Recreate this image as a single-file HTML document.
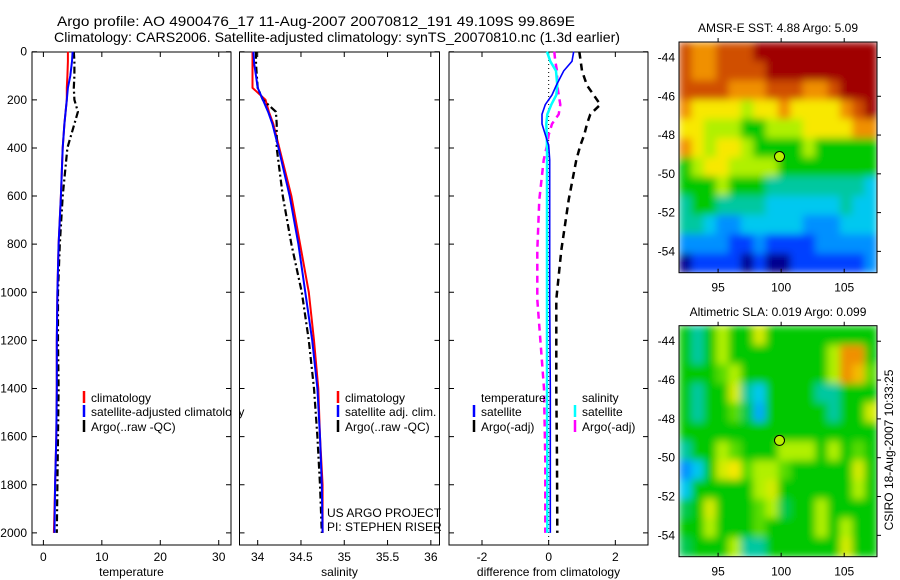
<!DOCTYPE html>
<html><head><meta charset="utf-8">
<style>
html,body{margin:0;padding:0;background:#fff}
svg{display:block;font-family:"Liberation Sans",sans-serif}
</style></head>
<body>
<svg id="fig" width="900" height="580" viewBox="0 0 900 580" xmlns="http://www.w3.org/2000/svg">
<defs>
<filter id="smooth" x="0" y="0" width="1" height="1"><feGaussianBlur stdDeviation="4" edgeMode="duplicate"/></filter>
<clipPath id="clipA"><rect x="679" y="42" width="198" height="230.7"/></clipPath>
<clipPath id="clipB"><rect x="679" y="325.7" width="198" height="231"/></clipPath>
</defs>
<rect width="900" height="580" fill="#fff"/>
<text x="57" y="26" font-size="14" textLength="518" lengthAdjust="spacingAndGlyphs">Argo profile: AO 4900476_17 11-Aug-2007 20070812_191 49.109S 99.869E</text>
<text x="54" y="42" font-size="14" textLength="566" lengthAdjust="spacingAndGlyphs">Climatology: CARS2006. Satellite-adjusted climatology: synTS_20070810.nc (1.3d earlier)</text>
<g id="g"></g>
</svg>
<script>
// ---------- data ----------
const depthTicks=[0,200,400,600,800,1000,1200,1400,1600,1800,2000];
const tempTicks=[0,10,20,30];
const salTicks=[34,34.5,35,35.5,36];
const diffTicks=[-2,0,2];
const tDepth=[0,40,100,150,200,250,300,400,600,800,1000,1200,1400,1600,1800,2000];
const tClim=[4.2,4.2,4.1,4.0,4.0,3.8,3.6,3.3,3.0,2.6,2.4,2.3,2.3,2.2,2.0,1.8];
const tSat=[5.0,4.9,4.6,4.2,4.0,3.8,3.6,3.3,3.0,2.6,2.4,2.3,2.3,2.2,2.0,1.9];
const tArgo=[5.2,5.3,5.3,5.2,5.3,5.9,5.3,4.1,3.3,2.8,2.5,2.5,2.6,2.5,2.4,2.3];
const sDepth=[0,50,100,150,200,250,300,400,600,800,1000,1200,1400,1600,1800,2000];
const sClim=[33.94,33.94,33.94,33.94,34.09,34.13,34.18,34.25,34.39,34.49,34.59,34.65,34.70,34.72,34.75,34.75];
const sSat=[33.95,33.96,33.98,34.0,34.06,34.12,34.17,34.24,34.37,34.47,34.55,34.63,34.69,34.72,34.74,34.75];
const sArgo=[33.98,33.98,33.99,34.0,34.06,34.21,34.22,34.22,34.29,34.39,34.51,34.59,34.65,34.69,34.72,34.74];
const dDepth=[0,40,80,140,180,220,260,300,345,390,450,615,825,1030,1400,1700,2000];
const dTempSat=[0.75,0.7,0.45,0.23,0.1,-0.1,-0.2,-0.2,-0.1,0,0.03,0.03,0.03,0.03,0.05,0.05,0.05];
const dSalSat=[-0.05,0.05,0.22,0.26,0.23,0.08,-0.04,-0.07,-0.06,-0.05,-0.05,-0.05,-0.05,-0.05,-0.05,-0.04,-0.04];
const dSalArgo=[0.17,0.2,0.25,0.26,0.3,0.35,0.3,0.1,0.0,-0.05,-0.15,-0.28,-0.34,-0.34,-0.14,-0.1,-0.1];
const dTempArgo=[0.92,0.96,1.0,1.15,1.35,1.55,1.25,1.15,1.07,0.95,0.83,0.6,0.38,0.23,0.23,0.25,0.26];
const mapLonTicks=[95,100,105];
const mapLatTicks=[-44,-46,-48,-50,-52,-54];
const sstGrid=[
[9,8,8,9,9,9,10,10,10,10,10,10,10,10,10,10],
[9,8,8,9,9,9,9,10,10,10,10,10,10,10,10,10],
[9,9,9,9,8,8,8,9,9,9,8,8,9,10,10,10],
[8,7,7,7,7,6,7,7,8,7,7,7,7,8,9,10],
[7,7,6,6,6,5,5,6,6,6,7,7,7,7,8,8],
[8,7,6,7,7,6,5,5,5,5,6,5,5,5,5,5],
[5,6,7,7,6,6,6,6,5,5,5,5,5,5,5,5],
[5,5,5,6,5,5,5,4,4,4,4,4,4,4,4,3],
[4,5,5,4,4,4,4,3,3,3,3,3,3,4,3,3],
[4,4,3,2,2,3,3,3,3,3,2,2,2,3,3,3],
[2,2,2,2,1,1,2,1,1,1,1,2,2,2,2,2],
[0,1,1,1,1,0,1,0,0,1,1,1,1,1,1,2]];
const slaGrid=[
[5,4,5,6,5,5,6.5,5,5,5,5,5,5,5,5,5],
[5,4,5,6,5,5,5,5,5,5,5,5,6,8,8,5],
[5,5,5,5.5,6,5,5,5,5,5,5,5,6,8,7.5,5.5],
[5,4,5,5,6.5,4,3,5,5,5,5,4,4,5,5,5],
[5,4,5,5,5.5,4.5,2.5,5,5,5,5,5,4,5,5,6.5],
[5,5,5,5,5,5,5,5,5,5,5,5,5,5,5,5],
[4,5,5,6,5.5,5,5,5,6,6,6,5,6,5,5.5,5],
[2,3,5,6.5,7,5.5,6,6,5.5,5,5,5,5,5,6.5,5],
[3,5,5,5,5,5,6,6.5,5,5,5,5,5,5,6,5],
[4.5,5,6.5,5,5,5,5.5,6,4.5,5,5,6,5,5,5,5],
[5,5,6,5,5,5,5.5,5,5,5,5,6,5,6,5,5],
[4.5,5,5,5,6,4,4,5,5,5,5,5,5,6.5,5,5]];

// ---------- helpers ----------
const NS="http://www.w3.org/2000/svg";
const G=document.getElementById('g');
function mk(tag,attrs,parent){const e=document.createElementNS(NS,tag);for(const k in attrs)e.setAttribute(k,attrs[k]);(parent||G).appendChild(e);return e;}
const yTop=52,yBot=545;
const yD=d=>51.7+0.2406*d;
const panels=[
 {name:'temperature',x0:32,x1:231,lo:-1.95,hi:32.1,ticks:tempTicks,label:'temperature'},
 {name:'salinity',x0:239.5,x1:439.5,lo:33.79,hi:36.1,ticks:salTicks,label:'salinity'},
 {name:'difference',x0:449,x1:648,lo:-2.99,hi:2.98,ticks:diffTicks,label:'difference from climatology'}];
panels.forEach(p=>{p.sx=v=>p.x0+(v-p.lo)/(p.hi-p.lo)*(p.x1-p.x0);});

panels.forEach((p,i)=>{
 const r=mk('rect',{x:p.x0,y:yTop,width:p.x1-p.x0,height:yBot-yTop,fill:'none',stroke:'#000','stroke-width':1});
 
 
 p.ticks.forEach(t=>{
  const x=p.sx(t);
  const tk=mk('path',{d:`M${x},${yBot}v-5M${x},${yTop}v5`,stroke:'#000'});
  
  
  const tl=mk('text',{x:x,y:561,'font-size':12,'text-anchor':'middle'});
  tl.textContent=String(t);
  
  
 });
 const xl=mk('text',{x:(p.x0+p.x1)/2,y:576,'font-size':12,'text-anchor':'middle'});
 xl.textContent=p.label;
 
 
 depthTicks.forEach(d=>{
  const y=yD(d);
  const tk=mk('path',{d:`M${p.x0},${y}h5M${p.x1},${y}h-5`,stroke:'#000'});
  
  
  if(i===0){
   const tl=mk('text',{x:27,y:y+4,'font-size':12,'text-anchor':'end'});
   tl.textContent=String(d);
   
   
  }
 });
});

function line(p,vals,depths,color,w,dash,name){
 const pts=vals.map((v,k)=>p.sx(v).toFixed(1)+','+yD(depths[k]).toFixed(1)).join(' ');
 const a={points:pts,fill:'none',stroke:color,'stroke-width':w};
 if(dash)a['stroke-dasharray']=dash;
 const e=mk('polyline',a);
 
 
}
const P0=panels[0],P1=panels[1],P2=panels[2];
line(P0,tClim,tDepth,'#f00',2,null,'temp-climatology-line');
line(P0,tArgo,tDepth,'#000',2.2,'7,3,2,3','temp-argo-line');
line(P0,tSat,tDepth,'#00f',2,null,'temp-satellite-line');
line(P1,sClim,sDepth,'#f00',2,null,'sal-climatology-line');
line(P1,sArgo,sDepth,'#000',2.2,'7,3,2,3','sal-argo-line');
line(P1,sSat,sDepth,'#00f',2,null,'sal-satellite-line');
const zl=mk('line',{x1:P2.sx(0),x2:P2.sx(0),y1:yTop,y2:yBot,stroke:'#000','stroke-dasharray':'1,3','stroke-width':1});


line(P2,dTempArgo,dDepth,'#000',2.5,'7,5','diff-temp-argo-line');
line(P2,dSalArgo,dDepth,'#f0f',2.5,'7,5','diff-sal-argo-line');
line(P2,dSalSat,dDepth,'#0ff',2.5,null,'diff-sal-satellite-line');
line(P2,dTempSat,dDepth,'#00f',1.6,null,'diff-temp-satellite-line');

function legend(x,y,color,text,name){
 const b=mk('line',{x1:x,x2:x,y1:y-11,y2:y+1,stroke:color,'stroke-width':2.5});
 
 
 const t=mk('text',{x:x+7,y:y,'font-size':12});
 t.textContent=text;
 
 
}
legend(84,402,'#f00','climatology','legend-temp-climatology');
legend(84,416,'#00f','satellite-adjusted climatology','legend-temp-satellite');
legend(84,431,'#000','Argo(..raw -QC)','legend-temp-argo');
legend(338,402,'#f00','climatology','legend-sal-climatology');
legend(338,416,'#00f','satellite adj. clim.','legend-sal-satellite');
legend(338,431,'#000','Argo(..raw -QC)','legend-sal-argo');
{const t=mk('text',{x:481,y:402,'font-size':12});t.textContent='temperature';


const s=mk('text',{x:582,y:402,'font-size':12});s.textContent='salinity';

}
legend(474,416,'#00f','satellite','legend-diff-temp-satellite');
legend(474,431,'#000','Argo(-adj)','legend-diff-temp-argo');
legend(575,416,'#0ff','satellite','legend-diff-sal-satellite');
legend(575,431,'#f0f','Argo(-adj)','legend-diff-sal-argo');
{const c=mk('rect',{x:231.5,y:380,width:7.5,height:60,fill:'#fff'});


mk('line',{x1:231,x2:231,y1:380,y2:440,stroke:'#000'});mk('line',{x1:239.5,x2:239.5,y1:380,y2:440,stroke:'#000'});}
{const t=mk('text',{x:327,y:517,'font-size':12});t.textContent='US ARGO PROJECT';

const u=mk('text',{x:327,y:531,'font-size':12});u.textContent='PI: STEPHEN RISER';
}

// ---------- maps ----------
const pal=['#00008f','#0040ff','#0090ff','#00c8f0','#00c8a0','#00c800','#b0f000','#f8e800','#f09000','#d05000','#a00000'];
function hex(h){return [1,3,5].map(i=>parseInt(h.substr(i,2),16));}
function col(v){v=Math.max(0,Math.min(10,v));const i=Math.floor(v),f=v-i;const a=hex(pal[i]),b=hex(pal[Math.min(10,i+1)]);
 return 'rgb('+a.map((c,k)=>Math.round(c+(b[k]-c)*f)).join(',')+')';}
const lonLo=91.9,lonHi=107.6,latHi=-43.2,latLo=-55.1;
function map(grid,x0,x1,y0,y1,name,title,titleY,clip){
 const sx=l=>x0+(l-lonLo)/(lonHi-lonLo)*(x1-x0);
 const sy=l=>y0+(latHi-l)/(latHi-latLo)*(y1-y0);
 const nr=grid.length,nc=grid[0].length;
 const dLon=(lonHi-lonLo)/nc,dLat=(latHi-latLo)/nr;
 const outer=mk('g',{'clip-path':'url(#'+clip+')'});
 
 
 const inner=mk('g',{filter:'url(#smooth)'},outer);
 grid.forEach((row,r)=>row.forEach((v,c)=>{
  const xa=sx(lonLo+c*dLon),xb=sx(lonLo+(c+1)*dLon),ya=sy(latHi-r*dLat),yb=sy(latHi-(r+1)*dLat);
  const e=mk('rect',{x:xa.toFixed(2),y:ya.toFixed(2),width:(xb-xa+0.6).toFixed(2),height:(yb-ya+0.6).toFixed(2),fill:col(v)},inner);
  
  
 }));
 const f=mk('rect',{x:x0,y:y0,width:x1-x0,height:y1-y0,fill:'none',stroke:'#000'});
 
 
 mapLonTicks.forEach(l=>{const x=sx(l);
  const tk=mk('path',{d:`M${x},${y0}v-4M${x},${y1}v-4`,stroke:'#000'});
  
  const t=mk('text',{x:x,y:y1+19,'font-size':12,'text-anchor':'middle'});t.textContent=String(l);
  });
 mapLatTicks.forEach(l=>{const y=sy(l);
  const tk=mk('path',{d:`M${x1},${y}h4`,stroke:'#000'});
  
  const t=mk('text',{x:x0-4,y:y+4,'font-size':12,'text-anchor':'end'});t.textContent=String(l);
  });
 const c=mk('circle',{cx:sx(99.869),cy:sy(-49.109),r:5,fill:'#b8f000',stroke:'#000','stroke-width':1});
 
 const t=mk('text',{x:(x0+x1)/2,y:titleY,'font-size':12,'text-anchor':'middle'});t.textContent=title;
 
}
map(sstGrid,679,877,42,272.7,'sst-map','AMSR-E SST: 4.88 Argo: 5.09',32,'clipA');
map(slaGrid,679,877,325.7,556.7,'sla-map','Altimetric SLA: 0.019 Argo: 0.099',316,'clipB');
{const t=mk('text',{x:0,y:0,'font-size':12,'text-anchor':'middle',transform:'translate(893,450) rotate(-90)'});
t.textContent='CSIRO 18-Aug-2007 10:33:25';
}
</script>
</body></html>
